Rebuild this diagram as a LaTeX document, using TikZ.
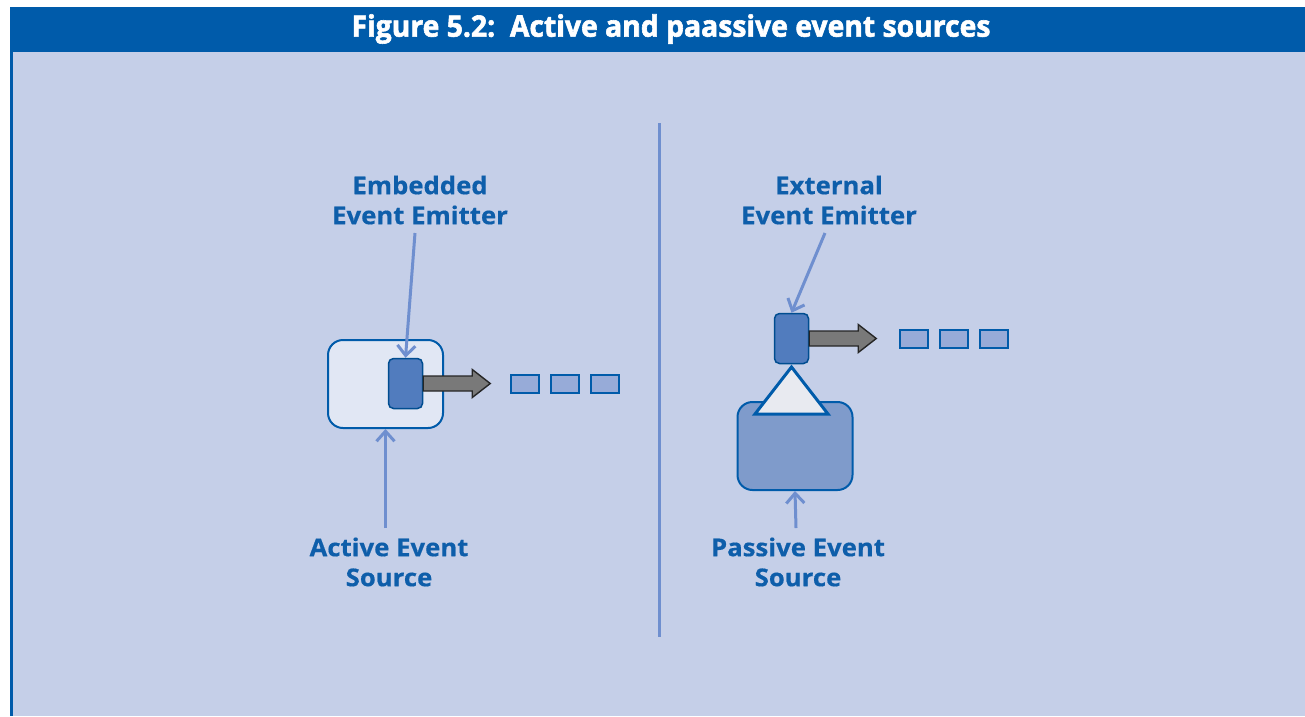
\documentclass[tikz,border=0pt]{standalone}
\usepackage{fontspec}
\setmainfont{Open Sans}
\newfontfamily\titlefont[FakeStretch=0.96,FakeBold=2]{Open Sans}
\newfontfamily\labelfont[FakeStretch=1.05,FakeBold=0.5]{Open Sans}
\usetikzlibrary{arrows.meta,calc}

\definecolor{barblue}{RGB}{0,91,170}
\definecolor{panel}{RGB}{197,207,232}
\definecolor{labelblue}{RGB}{14,94,170}
\definecolor{pointer}{RGB}{111,143,207}
\definecolor{emitfill}{RGB}{81,124,190}
\definecolor{passfill}{RGB}{127,155,203}
\definecolor{activefill}{RGB}{225,231,244}
\definecolor{chipfill}{RGB}{151,171,216}
\definecolor{trifill}{RGB}{232,234,240}

\tikzset{
  label text/.style={font=\labelfont\bfseries\fontsize{24.5}{30}\selectfont, text=labelblue, align=center, inner sep=0pt},
  source box/.style={draw=barblue, line width=2pt, rounded corners=15pt, minimum width=115pt, minimum height=88pt, inner sep=0pt},
  emitter/.style={draw=barblue!85!black, fill=emitfill, line width=1.5pt, rounded corners=5pt, minimum width=34pt, minimum height=50pt, inner sep=0pt},
  chip/.style={draw=barblue, fill=chipfill, line width=2pt, minimum width=28pt, minimum height=18pt, inner sep=0pt},
  pointer line/.style={draw=pointer, line width=3pt, -{Straight Barb[length=10pt,width=18pt,line width=3pt]}},
  event arrow/.style={fill=gray!95!black, draw=black!85, line width=1.4pt, line join=miter},
}

\begin{document}
\begin{tikzpicture}[x=1pt,y=-1pt]
  \useasboundingbox (0,0) rectangle (1305,716);
  % panel, title bar and left rule
  \fill[white] (0,0) rectangle (1305,716);
  \fill[panel] (10,52) rectangle (1305,716);
  \fill[barblue] (10,7) rectangle (1305,52);
  \fill[barblue] (10,52) rectangle (12.5,716);
  \node[text=white, font=\titlefont\bfseries\fontsize{29.5}{30}\selectfont, inner sep=0pt] (title) at (671,29)
    {Figure 5.2:\ \ Active and paassive event sources};

  % divider
  \coordinate (divtop) at (659.5,123);
  \coordinate (divbot) at (659.5,637);
  \draw[pointer, line width=3pt] (divtop) -- (divbot);

  % ---------- active source ----------
  \node[source box, fill=activefill] (active) at (385.5,384) {};
  \node[emitter] (emb) at (405.5,383.5) {};
  \node[label text] (embLab) at (420,200) {Embedded\\Event Emitter};
  \node[label text] (actLab) at (389,562) {Active Event\\Source};

  \path[event arrow] (emb.east) ++(0,-7.5) -- ++(49,0) -- ++(0,-6.5) -- ++(18,14)
     -- ++(-18,14) -- ++(0,-6.5) -- ++(-49,0) -- cycle;
  \node[chip] (a1) at (524.5,383.5) {};
  \node[chip] (a2) at (564.5,383.5) {};
  \node[chip] (a3) at (604.5,383.5) {};

  \coordinate (embFrom) at (415,233);
  \draw[pointer line] (embFrom) -- (emb.north);
  \coordinate (actFrom) at (385.5,528);
  \draw[pointer line] (actFrom) -- (active.south);

  % ---------- passive source ----------
  \node[source box, fill=passfill] (passive) at (795,446) {};
  \node[emitter] (ext) at (791.5,338.5) {};
  \coordinate (apex) at (791.5,367);
  \coordinate (baseL) at (755,414);
  \coordinate (baseR) at (828,414);
  \draw[draw=barblue, fill=trifill, line width=3pt, line join=miter] (apex) -- (baseL) -- (baseR) -- cycle;
  \node[label text] (extLab) at (829,200) {External\\Event Emitter};
  \node[label text] (pasLab) at (798,562) {Passive Event\\Source};

  \path[event arrow] (ext.east) ++(0,-7.5) -- ++(49,0) -- ++(0,-6.5) -- ++(18,14)
     -- ++(-18,14) -- ++(0,-6.5) -- ++(-49,0) -- cycle;
  \node[chip] (b1) at (913.5,338.5) {};
  \node[chip] (b2) at (953.5,338.5) {};
  \node[chip] (b3) at (993.5,338.5) {};

  \coordinate (extFrom) at (825,233);
  \draw[pointer line] (extFrom) -- (ext.north);
  \coordinate (pasFrom) at (796,528);
  \draw[pointer line] (pasFrom) -- (passive.south);
\end{tikzpicture}
\end{document}
